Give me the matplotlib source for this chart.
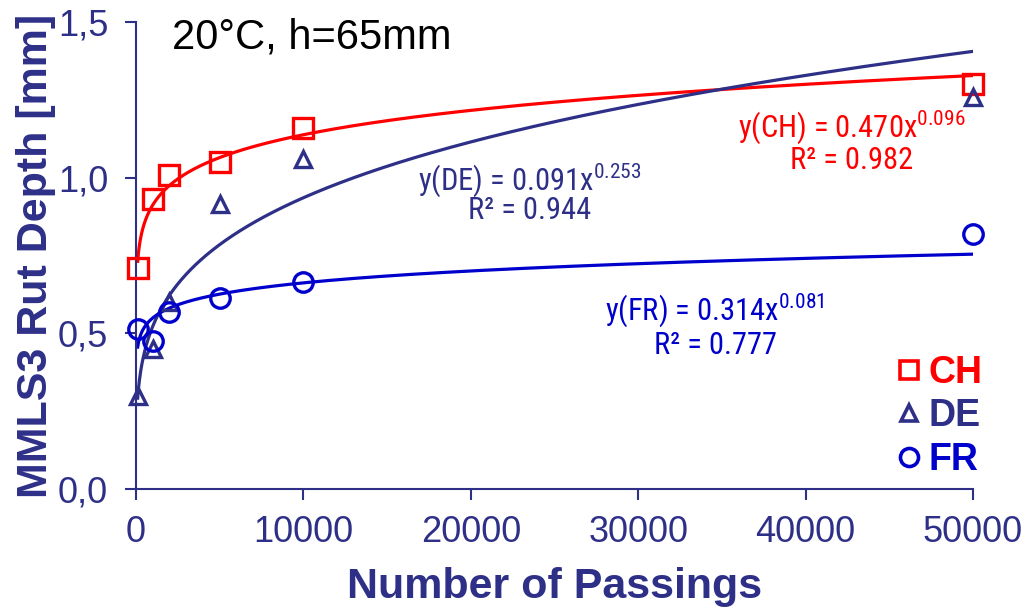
import numpy as np
import matplotlib
matplotlib.use("Agg")
import matplotlib.pyplot as plt
from matplotlib.lines import Line2D
from matplotlib import font_manager

# Measured rut depths (mm) after a given number of passings
passings = [100, 1000, 2000, 5000, 10000, 50000]
rut_ch = [0.71, 0.93, 1.01, 1.05, 1.16, 1.30]
rut_de = [0.30, 0.45, 0.60, 0.915, 1.06, 1.26]
rut_fr = [0.515, 0.475, 0.57, 0.615, 0.665, 0.82]

# Power-law fits y = a * x^b and their R²
fit_ch = (0.470, 0.096, 0.982)
fit_de = (0.091, 0.253, 0.944)
fit_fr = (0.314, 0.081, 0.777)

series_names = ["CH", "DE", "FR"]

RED = "#FF0000"
NAVY = "#2E3088"
BLUE = "#0000CC"

names = {f.name for f in font_manager.fontManager.ttflist}
narrow = next((n for n in ["Roboto Condensed", "Archivo Narrow", "PT Sans Narrow", "Liberation Sans"]
               if n in names), "DejaVu Sans")
plt.rcParams["font.family"] = ["Liberation Sans", "DejaVu Sans"]
plt.rcParams["mathtext.fontset"] = "custom"
plt.rcParams["mathtext.rm"] = narrow
plt.rcParams["mathtext.it"] = narrow

fig = plt.figure(figsize=(10.26, 6.10), dpi=100)
ax = fig.add_axes([136 / 1026, 1 - 489 / 610, (973 - 136) / 1026, (489 - 22) / 610])

xf = np.linspace(passings[0], passings[-1], 2000)
ms = 14
mew = 2.4
for (a, b, _), col in [(fit_ch, RED), (fit_de, NAVY), (fit_fr, BLUE)]:
    ax.plot(xf, a * xf ** b, color=col, lw=2.3, zorder=2)

ax.plot(passings, rut_ch, ls="none", marker="s", ms=ms, mfc="none", mec=RED, mew=mew,
        clip_on=False, zorder=3)
ax.plot(passings, rut_de, ls="none", marker="^", ms=ms - 2, mfc="none", mec=NAVY, mew=mew,
        clip_on=False, zorder=3)
ax.plot(passings, rut_fr, ls="none", marker="o", ms=ms, mfc="none", mec=BLUE, mew=mew,
        clip_on=False, zorder=3)

ax.set_xlim(0, 50000)
ax.set_ylim(0, 1.5)
ax.set_xticks([0, 10000, 20000, 30000, 40000, 50000])
ax.set_yticks([0, 0.5, 1.0, 1.5])
ax.set_yticklabels([f"{v:.1f}".replace(".", ",") for v in [0, 0.5, 1.0, 1.5]])

for s in ["top", "right"]:
    ax.spines[s].set_visible(False)
for s in ["left", "bottom"]:
    ax.spines[s].set_color(NAVY)
    ax.spines[s].set_linewidth(1.5)
ax.tick_params(axis="both", direction="out", length=8, width=1.5, color=NAVY,
               labelcolor=NAVY, labelsize=26)
ax.tick_params(axis="x", pad=11)
ax.tick_params(axis="y", pad=12)

ax.set_xlabel("Number of Passings", fontsize=31, fontweight="bold", color=NAVY, labelpad=12)
ax.set_ylabel("MMLS3 Rut Depth [mm]", fontsize=31, fontweight="bold", color=NAVY, labelpad=1)

fig.text(172 / 1026, 1 - 48 / 610, "20°C, h=65mm", fontsize=30, color="black",
         va="baseline", ha="left")


def eq_text(xpix, ypix1, ypix2, name, fit, col):
    a, b, r2 = fit
    fig.text(xpix / 1026, 1 - ypix1 / 610, f"y({name}) = {a:.3f}x$^{{{b:.3f}}}$",
             fontsize=22, color=col, ha="center", va="center", family=narrow)
    fig.text(xpix / 1026, 1 - ypix2 / 610, f"R² = {r2:.3f}",
             fontsize=22, color=col, ha="center", va="center", family=narrow)


eq_text(852, 127, 160, "CH", fit_ch, RED)
eq_text(530, 180, 211, "DE", fit_de, NAVY)
eq_text(715, 310, 345, "FR", fit_fr, BLUE)

handles = [
    Line2D([], [], ls="none", marker="s", ms=13, mfc="none", mec=RED, mew=2.6),
    Line2D([], [], ls="none", marker="^", ms=12, mfc="none", mec=NAVY, mew=2.6),
    Line2D([], [], ls="none", marker="o", ms=13, mfc="none", mec=BLUE, mew=2.6),
]
leg = ax.legend(handles, series_names, loc="upper left",
                bbox_to_anchor=(879 / 1026, 1 - 340 / 610), bbox_transform=fig.transFigure,
                frameon=False, handlelength=0.8, handletextpad=0.12, labelspacing=0.2,
                borderaxespad=0, prop={"weight": "bold", "size": 27},
                labelcolor=[RED, NAVY, BLUE])

fig.savefig("out.png", dpi=100)
